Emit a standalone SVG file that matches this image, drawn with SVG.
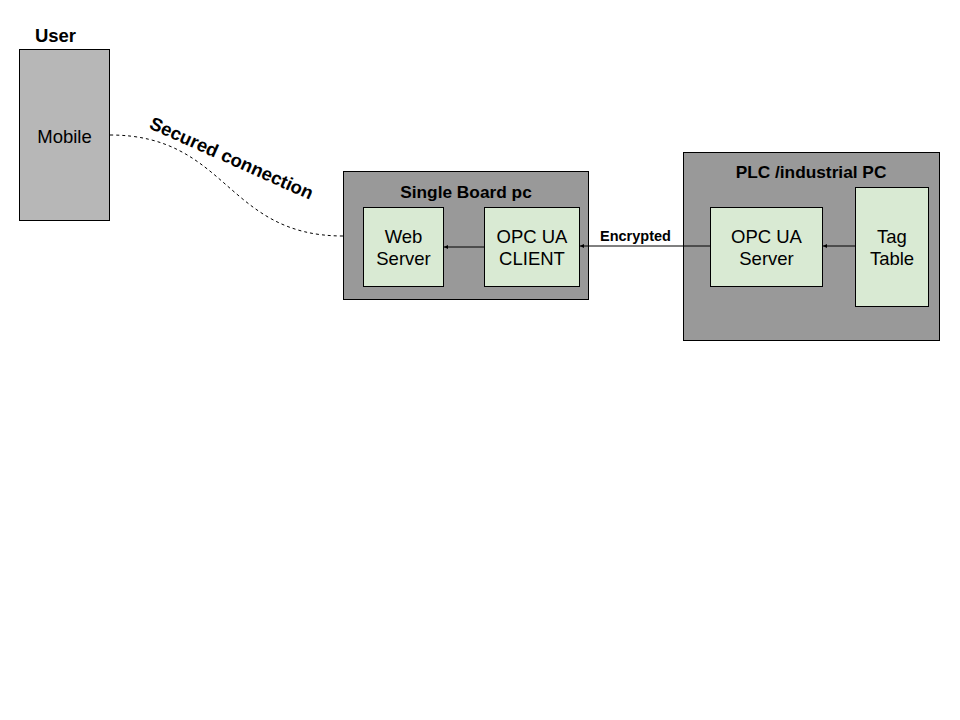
<svg xmlns="http://www.w3.org/2000/svg" width="960" height="720" viewBox="0 0 960 720">
<defs>
<style>
.box{stroke:#000;stroke-width:1}
.outer{fill:#999999}
.inner{fill:#d9ead3}
.mob{fill:#b7b7b7}
.t{font-family:"Liberation Sans",Arial,sans-serif;font-size:18.5px;fill:#000;text-anchor:middle}
.b{font-weight:bold}
.h{font-size:17.3px}
.conn{fill:none;stroke:#000;stroke-width:1}
</style>
<marker id="ah" viewBox="0 0 10 10" refX="10" refY="5" markerWidth="4" markerHeight="4" orient="auto" markerUnits="userSpaceOnUse">
<path d="M0,0 L10,5 L0,10 z" fill="#000"/>
</marker>
</defs>
<rect width="960" height="720" fill="#fff"/>
<g id="user">
<text class="t b" x="55.5" y="42">User</text>
<rect class="box mob" x="19.5" y="49.5" width="90" height="171"/>
<text class="t" x="64.5" y="142.5">Mobile</text>
</g>
<g id="single-board">
<rect class="box outer" x="343.5" y="171.5" width="245" height="128"/>
<text class="t b h" x="466" y="198">Single Board pc</text>
</g>
<g id="web-server">
<rect class="box inner" x="363.5" y="207.5" width="80" height="79"/>
<text class="t" x="403.5" y="242.5">Web</text>
<text class="t" x="403.5" y="264.5">Server</text>
</g>
<g id="opc-client">
<rect class="box inner" x="484.5" y="207.5" width="95" height="79"/>
<text class="t" x="532" y="242.5">OPC UA</text>
<text class="t" x="532" y="264.5">CLIENT</text>
</g>
<g id="plc">
<rect class="box outer" x="683.5" y="152.5" width="256" height="188"/>
<text class="t b h" x="811" y="178">PLC /industrial PC</text>
</g>
<g id="opc-server">
<rect class="box inner" x="710.5" y="207.5" width="112" height="79"/>
<text class="t" x="766.5" y="242.5">OPC UA</text>
<text class="t" x="766.5" y="264.5">Server</text>
</g>
<g id="tag-table">
<rect class="box inner" x="855.5" y="187.5" width="73" height="119"/>
<text class="t" x="892" y="242.5">Tag</text>
<text class="t" x="892" y="264.5">Table</text>
</g>
<g id="connectors">
<path class="conn" d="M110,135 C228,135 226,236 343,236" stroke-dasharray="3,3"/>
<text class="t b" x="0" y="0" style="font-size:18.5px" transform="translate(229,164) rotate(24)">Secured connection</text>
<line class="conn" x1="484" y1="247" x2="444" y2="247" marker-end="url(#ah)"/>
<line class="conn" x1="710" y1="246" x2="580" y2="246" marker-end="url(#ah)"/>
<text class="t b" x="635.5" y="240.5" style="font-size:14.5px">Encrypted</text>
<line class="conn" x1="855" y1="246" x2="823" y2="246" marker-end="url(#ah)"/>
</g>
</svg>
